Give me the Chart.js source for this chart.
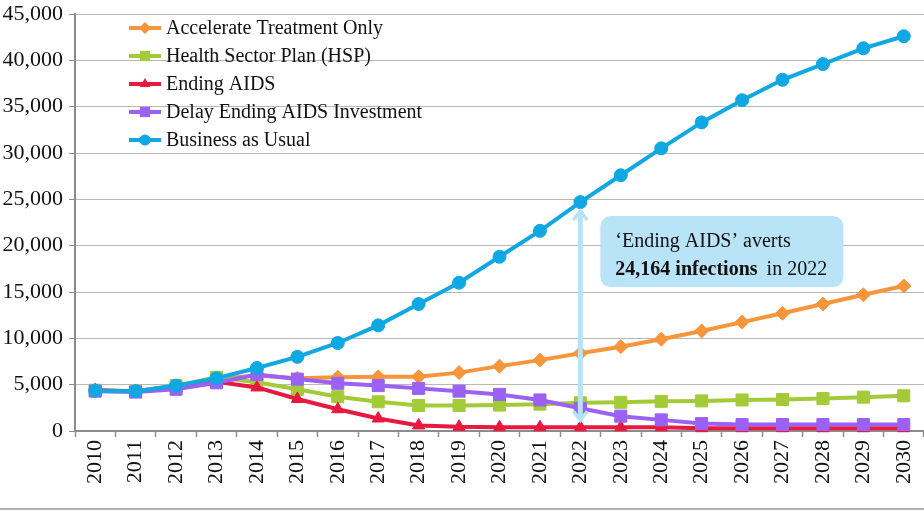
<!DOCTYPE html>
<html>
<head>
<meta charset="utf-8">
<script src="https://cdn.jsdelivr.net/npm/chart.js@4/dist/chart.umd.min.js"></script>
<style>
  body { margin: 0; background: #fff; }
  #wrap { width: 924px; height: 511px; position: relative; }
</style>
</head>
<body>
<div id="wrap"><canvas id="chart" width="924" height="511"></canvas></div>
<script>
// data
const years = ["2010","2011","2012","2013","2014","2015","2016","2017","2018","2019","2020",
  "2021","2022","2023","2024","2025","2026","2027","2028","2029","2030"]
const accelerate = [4400, 4300, 4800, 5600, 6000, 5700, 5800, 5850, 5850, 6300, 7000,
  7650, 8400, 9100, 9900, 10800, 11750, 12700, 13700, 14700, 15650]
const hsp = [4400, 4300, 4900, 5800, 5250, 4500, 3700, 3150, 2750, 2750, 2800,
  2900, 3050, 3100, 3200, 3250, 3350, 3400, 3500, 3650, 3800]
const endingAids = [4400, 4250, 4600, 5300, 4700, 3450, 2350, 1350, 600, 450, 400,
  400, 400, 400, 400, 300, 300, 300, 300, 300, 300]
const delayEnding = [4300, 4200, 4500, 5200, 6100, 5600, 5150, 4900, 4600, 4300, 3950,
  3350, 2450, 1600, 1200, 800, 700, 700, 700, 700, 700]
const businessAsUsual = [4350, 4300, 4900, 5700, 6800, 8000, 9500, 11400, 13700, 16000, 18800,
  21600, 24700, 27600, 30500, 33300, 35700, 37900, 39600, 41300, 42600]
const yTicks = [0, 5000, 10000, 15000, 20000, 25000, 30000, 35000, 40000, 45000]
const annotYear = "2022"
const avertedText = "24,164 infections"

const FONT = "'Liberation Serif', 'Times New Roman', serif"

function series(label, data, color, style, radius, order) {
  return {
    label, data, order,
    borderColor: color, backgroundColor: color,
    pointBackgroundColor: color, pointBorderColor: color,
    borderWidth: 4, pointStyle: style, pointRadius: radius, pointBorderWidth: 1,
    tension: 0, fill: false, clip: false,
  }
}

const datasets = [
  series("Accelerate Treatment Only", accelerate, "#f7953b", "rectRot", 7, 5),
  series("Health Sector Plan (HSP)", hsp, "#a3cb38", "rect", 8.5, 4),
  series("Ending AIDS", endingAids, "#e9183f", "triangle", 7, 3),
  series("Delay Ending AIDS Investment", delayEnding, "#9a61f4", "rect", 8.5, 2),
  series("Business as Usual", businessAsUsual, "#10a8e2", "circle", 6.5, 1),
]

// legend drawn inside the plot, top left
const legendPlugin = {
  id: "innerLegend",
  afterDraw(chart) {
    const ctx = chart.ctx
    ctx.save()
    datasets.forEach((ds, i) => {
      const y = 28 + i * 28
      ctx.strokeStyle = ds.borderColor
      ctx.lineWidth = 4
      ctx.beginPath()
      ctx.moveTo(129, y)
      ctx.lineTo(161, y)
      ctx.stroke()
      ctx.fillStyle = ds.backgroundColor
      Chart.helpers.drawPoint(ctx, { pointStyle: ds.pointStyle, radius: ds.pointRadius * 0.85, borderWidth: 0 }, 145, y)
      ctx.fillStyle = "#111"
      ctx.font = "20px " + FONT
      ctx.textBaseline = "middle"
      ctx.textAlign = "left"
      ctx.fillText(ds.label, 166, y + 1)
    })
    ctx.restore()
  },
}

// double arrow + callout box
const annotPlugin = {
  id: "annot",
  afterDatasetsDraw(chart) {
    const ctx = chart.ctx
    const xs = chart.scales.x, ys = chart.scales.y
    const idx = years.indexOf(annotYear)
    const x = xs.getPixelForValue(idx)
    const yTop = ys.getPixelForValue(businessAsUsual[idx]) + 7
    const yBot = ys.getPixelForValue(endingAids[idx]) - 5
    ctx.save()
    ctx.strokeStyle = "#b7e3f6"
    ctx.lineWidth = 5
    ctx.lineCap = "butt"
    ctx.beginPath()
    ctx.moveTo(x, yTop + 2)
    ctx.lineTo(x, yBot - 2)
    ctx.stroke()
    ctx.lineWidth = 3.5
    ctx.lineJoin = "miter"
    ctx.beginPath()
    ctx.moveTo(x - 7, yTop + 11)
    ctx.lineTo(x, yTop + 2)
    ctx.lineTo(x + 7, yTop + 11)
    ctx.moveTo(x - 7, yBot - 11)
    ctx.lineTo(x, yBot - 2)
    ctx.lineTo(x + 7, yBot - 11)
    ctx.stroke()

    // callout
    const bx = x + 20, by = yTop + 7, bw = 243, bh = 71
    ctx.fillStyle = "#b9e3f6"
    ctx.beginPath()
    ctx.roundRect(bx, by, bw, bh, 10)
    ctx.fill()
    ctx.fillStyle = "#111"
    ctx.textBaseline = "alphabetic"
    ctx.textAlign = "left"
    ctx.font = "20px " + FONT
    ctx.fillText("\u2018Ending AIDS\u2019 averts", bx + 15, by + 31)
    ctx.font = "bold 20px " + FONT
    ctx.fillText(avertedText, bx + 15, by + 59)
    const w = ctx.measureText(avertedText).width
    ctx.font = "20px " + FONT
    ctx.fillText("in " + annotYear, bx + 15 + w + 9, by + 59)
    ctx.restore()
  },
  afterDraw(chart) {
    const ctx = chart.ctx
    ctx.save()
    ctx.strokeStyle = "#b3b3b3"
    ctx.lineWidth = 2
    ctx.beginPath()
    ctx.moveTo(0, 509)
    ctx.lineTo(924, 509)
    ctx.stroke()
    ctx.restore()
  },
}

new Chart(document.getElementById("chart"), {
  type: "line",
  data: { labels: years, datasets },
  plugins: [annotPlugin, legendPlugin],
  options: {
    responsive: false,
    animation: false,
    layout: { autoPadding: false, padding: { top: 14, right: 0, left: 0, bottom: 0 } },
    plugins: { legend: { display: false }, tooltip: { enabled: false } },
    scales: {
      x: {
        offset: true,
        grid: { offset: true, drawOnChartArea: false, color: "#8c8c8c", tickLength: 6, tickWidth: 1.5 },
        border: { color: "#8c8c8c", width: 2 },
        ticks: { color: "#111", font: { family: FONT, size: 22 }, minRotation: 90, maxRotation: 90, padding: 3 },
        afterFit(scale) {
          scale.height = 80
          scale.paddingLeft = 0
          scale.paddingRight = 0
        },
      },
      y: {
        min: 0, max: 45000,
        afterBuildTicks(scale) { scale.ticks = yTicks.map(v => ({ value: v })) },
        grid: { color: "#b8b8b8", lineWidth: 1, tickLength: 6, tickColor: "#8c8c8c" },
        border: { color: "#8c8c8c", width: 2 },
        ticks: {
          color: "#111", font: { family: FONT, size: 22 }, padding: 6,
          callback: v => v.toLocaleString("en-US"),
        },
        afterFit(scale) {
          scale.width = 75
          scale.paddingTop = 0
          scale.paddingBottom = 0
        },
      },
    },
  },
})
</script>
</body>
</html>
